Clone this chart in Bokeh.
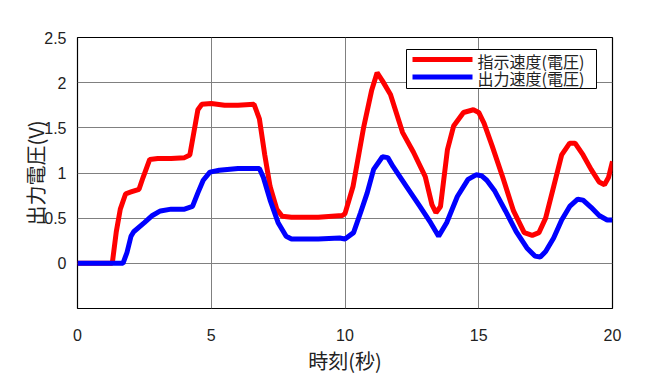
from bokeh.plotting import figure
from bokeh.models import FixedTicker, CustomJSTickFormatter, Range1d, Label, BoxAnnotation
from bokeh.embed import file_html
from bokeh.resources import INLINE

# 指示速度(電圧)
cmd_t = [0, 1.3, 1.45, 1.6, 1.8, 2.0, 2.3, 2.45, 2.7, 3.0, 3.5, 4.0, 4.2, 4.35, 4.5, 4.65, 5.0, 5.5, 6.0, 6.6,
         6.8, 7.0, 7.2, 7.45, 7.65, 8.0, 9.0, 9.9, 10.0, 10.3, 10.7, 11.0, 11.2, 11.4, 11.7, 12.15, 12.56, 13.0,
         13.25, 13.4, 13.57, 13.83, 14.06, 14.43, 14.8, 15.0, 15.2, 15.5, 15.9, 16.3, 16.7, 17.0, 17.25, 17.5,
         17.8, 18.1, 18.4, 18.6, 18.9, 19.2, 19.5, 19.7, 19.85, 20.0]
cmd_v = [0, 0, 0.35, 0.6, 0.77, 0.79, 0.82, 0.95, 1.15, 1.16, 1.16, 1.17, 1.2, 1.45, 1.7, 1.76, 1.77, 1.75, 1.75, 1.76,
         1.6, 1.2, 0.85, 0.6, 0.52, 0.51, 0.51, 0.53, 0.55, 0.85, 1.51, 1.92, 2.11, 2.02, 1.87, 1.45, 1.23, 0.96,
         0.65, 0.56, 0.63, 1.26, 1.52, 1.67, 1.70, 1.67, 1.55, 1.3, 0.95, 0.58, 0.34, 0.31, 0.34, 0.5,
         0.85, 1.2, 1.33, 1.33, 1.2, 1.04, 0.9, 0.87, 0.95, 1.13]

# 出力速度(電圧)
out_t = [0, 1.7, 1.85, 2.0, 2.1, 2.5, 2.8, 3.1, 3.5, 4.0, 4.3, 4.5, 4.7, 4.95, 5.3, 6.0, 6.8, 6.95, 7.2, 7.5,
         7.8, 8.0, 9.0, 9.8, 10.0, 10.32, 10.58, 10.83, 11.07, 11.4, 11.6, 11.8, 12.3, 12.8, 13.2, 13.5, 13.8,
         14.2, 14.6, 14.9, 15.1, 15.3, 15.6, 16.0, 16.4, 16.8, 17.1, 17.3, 17.5, 17.8, 18.1, 18.4, 18.7, 18.9,
         19.2, 19.5, 19.8, 20.0]
out_v = [0, 0, 0.12, 0.3, 0.35, 0.45, 0.53, 0.58, 0.6, 0.6, 0.63, 0.78, 0.92, 1.01, 1.03, 1.05, 1.05, 0.95, 0.7, 0.45,
         0.3, 0.27, 0.27, 0.28, 0.27, 0.34, 0.56, 0.78, 1.04, 1.18, 1.17, 1.07, 0.85, 0.63, 0.45, 0.3, 0.45,
         0.74, 0.93, 0.98, 0.97, 0.92, 0.8, 0.58, 0.35, 0.17, 0.08, 0.07, 0.13, 0.28, 0.48, 0.63, 0.71, 0.7,
         0.62, 0.53, 0.48, 0.48]

x_ticks = [0, 5, 10, 15, 20]
y_ticks = [0, 0.5, 1, 1.5, 2, 2.5]
labels = ["指示速度(電圧)", "出力速度(電圧)"]
colors = ["#ff0000", "#0000ff"]

p = figure(width=667, height=377, output_backend="svg", toolbar_location=None,
           x_range=Range1d(0, 20), y_range=Range1d(-0.5, 2.5),
           min_border_left=77, min_border_right=55, min_border_top=37, min_border_bottom=67)
p.background_fill_color = "white"
p.border_fill_color = "white"
p.outline_line_color = "black"
p.outline_line_width = 1.2

p.line(cmd_t, cmd_v, line_color=colors[0], line_width=5)
p.line(out_t, out_v, line_color=colors[1], line_width=5)

for ax in (p.xaxis[0], p.yaxis[0]):
    ax.major_tick_line_color = None
    ax.minor_tick_line_color = None
    ax.axis_line_color = None
    ax.major_label_text_font = "Liberation Sans"
    ax.major_label_text_font_size = "16px"
    ax.major_label_text_color = "#222222"
    ax.axis_label_text_font = "Noto Sans CJK JP"
    ax.axis_label_text_font_size = "20px"
    ax.axis_label_text_font_style = "normal"
    ax.axis_label_text_color = "#222222"
    ax.formatter = CustomJSTickFormatter(code="return tick.toString();")

p.xaxis[0].ticker = FixedTicker(ticks=x_ticks)
p.yaxis[0].ticker = FixedTicker(ticks=y_ticks)
p.xaxis[0].major_label_standoff = 14
p.yaxis[0].major_label_standoff = 5
p.xaxis[0].axis_label = "時刻(秒)"
p.yaxis[0].axis_label = "出力電圧(V)"
p.xaxis[0].axis_label_standoff = 2
p.yaxis[0].axis_label_standoff = -9

p.xgrid.ticker = FixedTicker(ticks=x_ticks)
p.ygrid.ticker = FixedTicker(ticks=y_ticks)
for g in (p.xgrid[0], p.ygrid[0]):
    g.grid_line_color = "#808080"
    g.grid_line_width = 1

# legend box (screen units, relative to the plot frame)
p.add_layout(BoxAnnotation(left=329, right=519, bottom=220, top=259,
                           left_units="screen", right_units="screen",
                           bottom_units="screen", top_units="screen",
                           fill_color="white", fill_alpha=1,
                           line_color="black", line_width=1, line_alpha=1))
for i, (lab, col) in enumerate(zip(labels, colors)):
    yc = 249 - 17.5 * i
    p.add_layout(BoxAnnotation(left=335, right=395, bottom=yc - 2.5, top=yc + 2.5,
                               left_units="screen", right_units="screen",
                               bottom_units="screen", top_units="screen",
                               fill_color=col, fill_alpha=1, line_color=None))
    p.add_layout(Label(x=400, y=yc - 1, x_units="screen", y_units="screen", text=lab,
                       text_font="Noto Sans CJK JP", text_font_size="16px",
                       text_color="#222222", text_baseline="middle", text_align="left"))

open("out.html", "w").write(file_html(p, INLINE))
